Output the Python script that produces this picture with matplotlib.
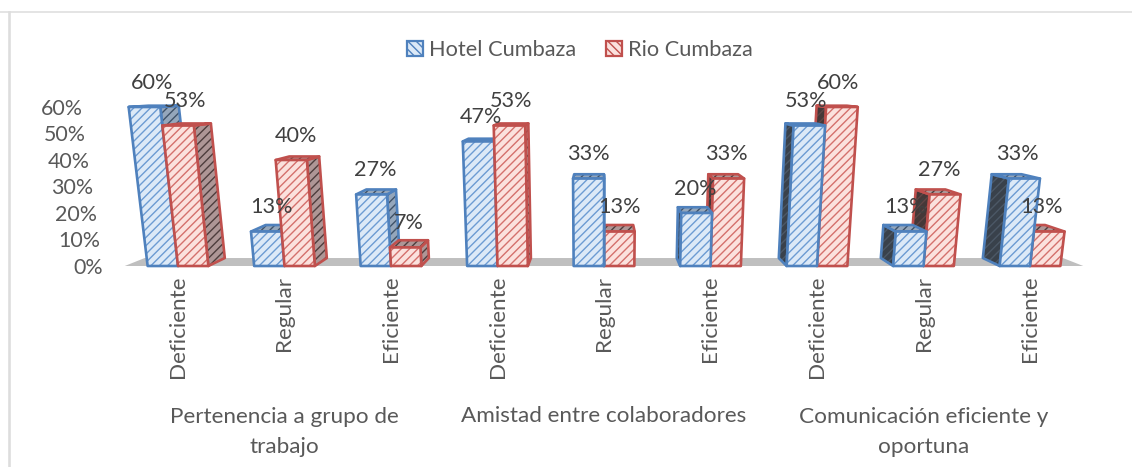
import numpy as np
import matplotlib.pyplot as plt
from matplotlib.patches import Polygon, Patch
from matplotlib.lines import Line2D

plt.rcParams['font.family'] = ['Lato', 'DejaVu Sans']
plt.rcParams['hatch.linewidth'] = 1.0

W, H = 1132, 467

categorias = ['Deficiente', 'Regular', 'Eficiente'] * 3
grupos = ['Pertenencia a grupo de\ntrabajo', 'Amistad entre colaboradores',
          'Comunicación eficiente y\noportuna']
hotel = [60, 13, 27, 47, 33, 20, 53, 13, 33]
rio = [53, 40, 7, 53, 13, 33, 60, 27, 13]
ticks = [0, 10, 20, 30, 40, 50, 60]

# perspective of the fake 3D chart, in data units
XC = 3.96    # x of the vanishing point
YV = 71.7    # y of the vanishing point
LEAN = 0.0007
DEPTH = 0.042
ANCHO = 0.285

AZUL = '#4F81BD'
ROJO = '#C0504D'


def frente(x, h):
    return x + (x - XC) * h * LEAN, h


def fondo(x, h):
    fx, fy = frente(x, h)
    return fx + (XC - fx) * DEPTH, fy + (YV - fy) * DEPTH


def cara(ax, pts, fc, hatch_col, edge, z, lw=1.9):
    ax.add_patch(Polygon(pts, closed=True, fc=fc, ec=hatch_col, hatch='////', lw=0, zorder=z, clip_on=False))
    ax.add_patch(Polygon(pts, closed=True, fc='none', ec=edge, lw=lw, joinstyle='round', zorder=z + 0.01,
                         clip_on=False))


def barra(ax, x0, x1, h, edge, claro, trama, oscuro, z):
    mitad = (x0 + x1) / 2
    # side face, it shows on the side that looks to the vanishing point
    if mitad < XC:
        lado = [frente(x1, 0), frente(x1, h), fondo(x1, h), fondo(x1, 0)]
        cara(ax, lado, oscuro[0], oscuro[1], edge, z)
    else:
        lado = [frente(x0, 0), frente(x0, h), fondo(x0, h), fondo(x0, 0)]
        cara(ax, lado, oscuro[2], oscuro[3], edge, z)
    tapa = [frente(x0, h), frente(x1, h), fondo(x1, h), fondo(x0, h)]
    cara(ax, tapa, oscuro[0], oscuro[1], edge, z + 0.1)
    f = [frente(x0, 0), frente(x1, 0), frente(x1, h), frente(x0, h)]
    cara(ax, f, claro, trama, edge, z + 0.2)


fig = plt.figure(figsize=(W / 100, H / 100), dpi=100)
# only the top and left border of the chart are in the picture
fig.add_artist(Line2D([0, 1], [1 - 11.5 / H, 1 - 11.5 / H], transform=fig.transFigure,
                      color='#DDDDDD', lw=1.1, zorder=-1))
fig.add_artist(Line2D([9 / W, 9 / W], [0, 1 - 11.5 / H], transform=fig.transFigure,
                      color='#DDDDDD', lw=1.9, zorder=-1))

ax = fig.add_axes([124.75 / W, 1 - 266 / H, 958.5 / W, 159 / H])
ax.set_xlim(-0.5, 8.5)
ax.set_ylim(0, 60)
ax.patch.set_visible(False)
for s in ax.spines.values():
    s.set_visible(False)
ax.set_yticks([])

# floor
suelo = [(-0.5, 0), (8.5, 0), fondo(8.5, 0), fondo(-0.5, 0)]
ax.add_patch(Polygon(suelo, closed=True, fc='#BFBFBF', ec='none', zorder=1, clip_on=False))

for t in ticks:
    ax.text(frente(-0.70, t)[0], t - 0.6, f'{t}%', ha='right', va='center', fontsize=15.4, color='#595959')

osc_azul = ['#94A6BB', '#3F5269', '#39414B', '#4C5866']
osc_rojo = ['#AE9696', '#4E3D3D', '#453838', '#5E4646']

for i in range(len(categorias)):
    # on the right half the red bar goes behind the blue one
    z_az, z_ro = (3, 4) if i < XC else (4, 3)
    barra(ax, i - ANCHO, i, hotel[i], AZUL, '#DCE9F7', '#6C9BD2', osc_azul, z_az)
    barra(ax, i, i + ANCHO, rio[i], ROJO, '#FBE1DD', '#D4706C', osc_rojo, z_ro)

    for x0, x1, v in [(i - ANCHO, i, hotel[i]), (i, i + ANCHO, rio[i])]:
        cx = (frente(x0, v)[0] + frente(x1, v)[0]) / 2
        cx = cx + (XC - cx) * DEPTH * 0.4
        ax.annotate(f'{v}%', (cx, v), xytext=(0, 17.5), textcoords='offset points', ha='center', va='center',
                    fontsize=15.6, color='#404040', zorder=10, annotation_clip=False)

ax.set_xticks(range(len(categorias)))
ax.set_xticklabels(categorias, rotation=90, fontsize=16.2, color='#595959')
ax.tick_params(axis='x', length=0, pad=7)

# group labels go below the axis, y is in axes fraction
for j, g in enumerate(grupos):
    yy = -(416 - 266) / 159 if '\n' not in g else -(432 - 266) / 159
    ax.text(1 + 3 * j, yy, g, transform=ax.get_xaxis_transform(), ha='center', va='center', fontsize=16.2,
            color='#595959', linespacing=1.57, clip_on=False)

handles = [Patch(fc='#DCE9F7', ec=AZUL, hatch='\\\\\\\\', lw=1.6, label='Hotel Cumbaza'),
           Patch(fc='#FBE1DD', ec=ROJO, hatch='\\\\\\\\', lw=1.6, label='Rio Cumbaza')]
fig.legend(handles=handles, loc='center', bbox_to_anchor=(580 / W, 1 - 50 / H), ncol=2, frameon=False,
           fontsize=15.7, labelcolor='#595959', handlelength=0.73, handleheight=0.73, handletextpad=0.3,
           columnspacing=1.35)

fig.savefig('out.png', dpi=100)
